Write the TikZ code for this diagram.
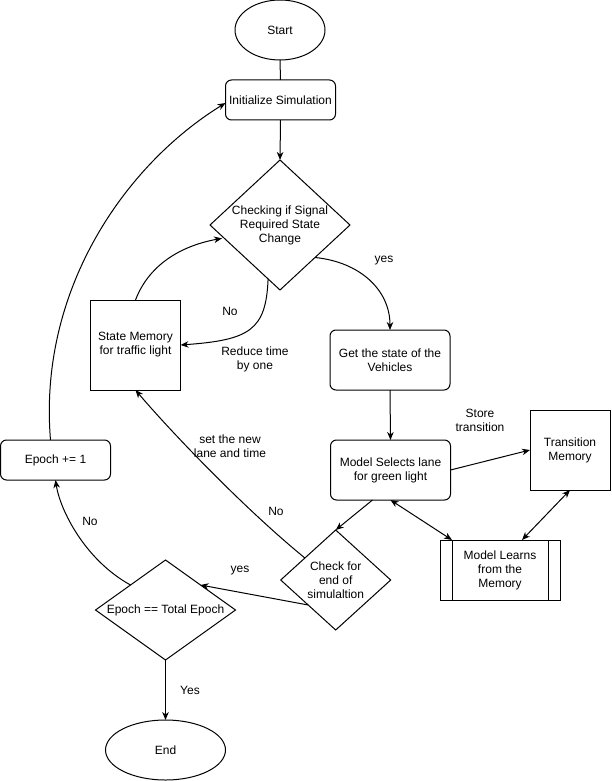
\documentclass[tikz,border=0pt]{standalone}
\usepackage{fontspec}
\setmainfont{Liberation Sans}
\usetikzlibrary{shapes.geometric,arrows.meta,calc}
\begin{document}
\begin{tikzpicture}[x=1pt,y=-1pt,line width=1pt,
  >={Stealth[length=8pt,width=6.5pt,inset=2.5pt]},
  every node/.style={font=\fontsize{12}{14}\selectfont,inner sep=0pt,outer sep=0pt,align=center},
  term/.style={draw,ellipse},
  rbox/.style={draw,rectangle,rounded corners=6pt},
  sbox/.style={draw,rectangle},
  dia/.style={draw,diamond}]
\useasboundingbox (0,0) rectangle (611,781);

% nodes
\node[term,minimum width=90pt,minimum height=60pt] (start) at (280,30) {Start};
\node[rbox,minimum width=110pt,minimum height=40pt] (init) at (280.5,100) {Initialize Simulation};
\node[dia,minimum width=140pt,minimum height=130pt] (d1) at (280,225) {};
\node (d1t) at (280,225) {Checking if Signal\\Required State\\Change};
\node[sbox,minimum width=90pt,minimum height=90pt] (sm) at (135.5,345) {State Memory\\for traffic light};
\node[rbox,minimum width=120pt,minimum height=60pt] (gs) at (390,360) {Get the state of the\\Vehicles};
\node[rbox,minimum width=120pt,minimum height=60pt] (ms) at (390.5,470) {Model Selects lane\\for green light};
\node[sbox,minimum width=80pt,minimum height=80pt] (tm) at (570,450) {Transition\\Memory};
\node[sbox,minimum width=120pt,minimum height=60pt] (ml) at (500,570) {Model Learns\\from the\\Memory};
\draw ([xshift=12pt]ml.north west) -- ([xshift=12pt]ml.south west);
\draw ([xshift=-12pt]ml.north east) -- ([xshift=-12pt]ml.south east);
\node[dia,minimum width=110pt,minimum height=100pt] (ce) at (335.7,580) {};
\node (cet) at (335.7,580) {Check for\\end of\\simulaltion};
\node[dia,minimum width=140pt,minimum height=100pt] (ep) at (165.5,610) {};
\node (ept) at (165.5,610) {Epoch == Total Epoch};
\node[rbox,minimum width=110pt,minimum height=40pt] (inc) at (55.5,460) {Epoch += 1};
\node[term,minimum width=120pt,minimum height=60pt] (end) at (165.5,750) {End};

% connectors
\draw (start.south) -- (init.north);
\draw[->] (init.south) -- (d1.north);
\draw[->] ($(d1.south)!0.17!(d1.west)$) .. controls (266,330) and (250,340) .. (sm.east);
\draw[->,shorten >=2pt] (sm.north) .. controls (150,262) and (185,245) .. ($(d1.west)!0.2!(d1.south)$);
\draw[->] (d1.south east) .. controls (360,262) and (390,290) .. (gs.north);
\draw[->] (gs.south) -- (ms.north);
\draw[->] (ms.east) -- (tm.west);
\draw[<->] (ms.south) -- ([xshift=12pt]ml.north west);
\draw[<->] (tm.south) -- ([xshift=22pt]ml.north);
\draw[->] ([xshift=-18pt]ms.south) -- (ce.north);
\draw[->] ($(ce.north)!0.56!(ce.west)$) .. controls (240,505) and (165,425) .. (sm.south);
\draw[->] (ce.south west) -- (ep.north east);
\draw[->] (ep.north west) .. controls (85,560) and (60,510) .. (inc.south);
\draw[->] ([xshift=-5pt]inc.north) .. controls (38,290) and (125,165) .. ([yshift=-3pt]init.west);
\draw[->] (ep.south) -- (end.north);

% labels
\node (l1) at (230,311) {No};
\node (l2) at (255,359) {Reduce time\\by one};
\node (l3) at (384,261) {yes};
\node (l4) at (480,420.5) {Store\\transition};
\node (l5) at (230,446) {set the new\\lane and time};
\node (l6) at (276,511) {No};
\node (l7) at (240,571) {yes};
\node (l8) at (90,521) {No};
\node (l9) at (190,690) {Yes};
\end{tikzpicture}
\end{document}
